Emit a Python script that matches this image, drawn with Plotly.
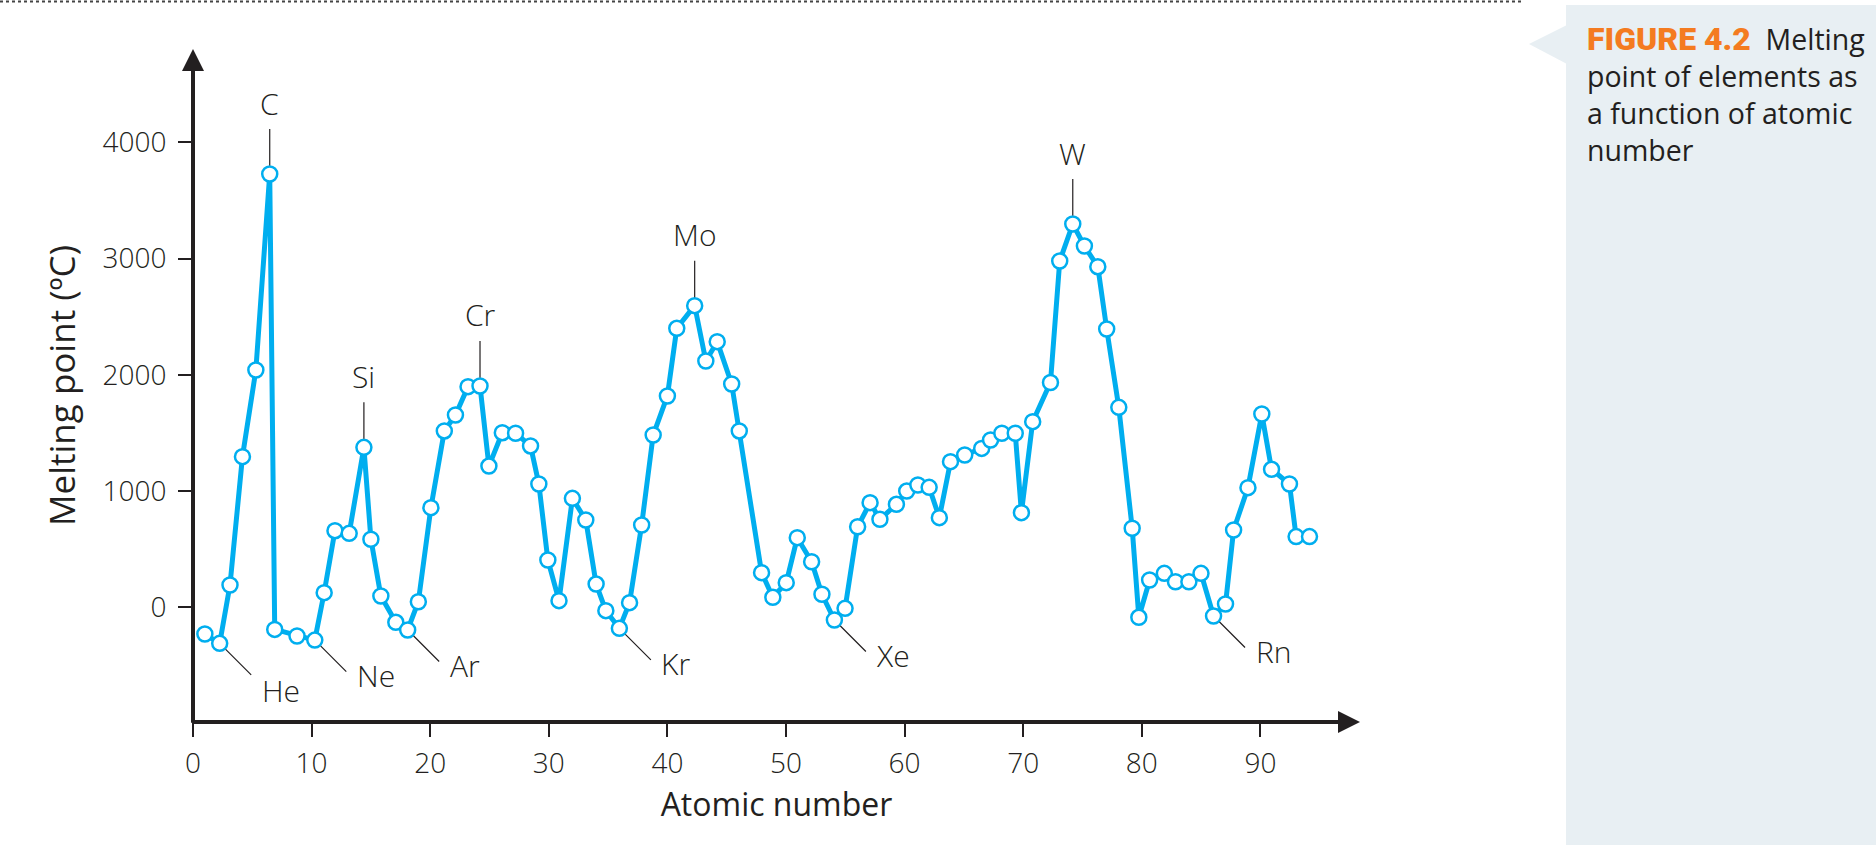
import plotly.graph_objects as go

# Melting point (deg C), one point per plotted element
symbols = [
    "H", "He", "Li", "Be", "B", "C", "N", "O", "Ne", "Na", "Mg", "Al", "Si", "P", "S",
    "Cl", "Ar", "K", "Ca", "Sc", "Ti", "V", "Cr", "Mn", "Fe", "Co", "Ni", "Cu", "Zn",
    "Ga", "Ge", "As", "Se", "Br", "Kr", "Rb", "Sr", "Y", "Zr", "Nb", "Mo", "Tc", "Ru",
    "Rh", "Pd", "Cd", "In", "Sn", "Sb", "Te", "I", "Xe", "Cs", "Ba", "La", "Ce", "Pr",
    "Nd", "Pm", "Sm", "Eu", "Gd", "Tb", "Dy", "Ho", "Er", "Tm", "Yb", "Lu", "Hf", "Ta",
    "W", "Re", "Os", "Ir", "Pt", "Au", "Hg", "Tl", "Pb", "Bi", "Po", "At", "Rn", "Fr",
    "Ra", "Ac", "Th", "Pa", "U", "Np", "Pu",
]
atomic_number = [
    1.0, 2.25, 3.12, 4.17, 5.3, 6.47, 6.89, 8.77, 10.27, 11.06, 11.97, 13.17, 14.41, 15.0, 15.84,
    17.1, 18.1, 19.0, 20.06, 21.19, 22.13, 23.19, 24.2, 24.95, 26.08, 27.2, 28.46, 29.16, 29.92,
    30.86, 31.99, 33.12, 33.99, 34.81, 35.95, 36.81, 37.83, 38.8, 40.0, 40.79, 42.3, 43.24, 44.2,
    45.42, 46.06, 47.94, 48.89, 50.02, 50.95, 52.16, 53.03, 54.08, 54.98, 56.04, 57.09, 57.92, 59.31,
    60.18, 61.12, 62.07, 62.93, 63.87, 65.07, 66.5, 67.25, 68.2, 69.33, 69.85, 70.8, 72.3, 73.08,
    74.18, 75.16, 76.29, 77.04, 78.06, 79.19, 79.75, 80.66, 81.9, 82.84, 83.97, 84.99, 86.05, 87.06,
    87.74, 88.95, 90.12, 90.94, 92.45, 93.01, 94.14,
]
melting_point = [
    -230, -310, 192, 1296, 2041, 3727, -190, -247, -282, 126, 659, 636, 1376, 585, 97,
    -129, -195, 48, 857, 1517, 1654, 1898, 1904, 1215, 1502, 1497, 1388, 1061, 407,
    57, 937, 751, 200, -29, -181, 40, 708, 1482, 1818, 2400, 2595, 2119, 2285,
    1921, 1517, 298, 86, 212, 599, 392, 112, -109, -9, 693, 900, 757, 886,
    1000, 1052, 1032, 771, 1253, 1310, 1367, 1439, 1497, 1497, 814, 1597, 1934, 2979,
    3297, 3108, 2930, 2394, 1720, 680, -86, 235, 292, 220, 220, 292, -75, 28,
    665, 1029, 1663, 1187, 1061, 608, 608,
]

x_ticks = [0, 10, 20, 30, 40, 50, 60, 70, 80, 90]
y_ticks = [0, 1000, 2000, 3000, 4000]

peak_labels = ["C", "Si", "Cr", "Mo", "W"]
noble_labels = ["He", "Ne", "Ar", "Kr", "Xe", "Rn"]

caption_tag = "FIGURE 4.2"
caption_lines = ["Melting", "point of elements as", "a function of atomic", "number"]

BLUE = "#00aeef"
INK = "#231f20"
FONT = "Open Sans"

# plot area in page pixels (body margin is removed below)
W, H = 1876, 845
L, T, R, B = 193, 49, 1360, 722
PW, PH = R - L, B - T
PX_PER_X, PX_PER_Y = 11.86, 0.11625
ZERO_Y = 607.3
X_RANGE = [0, PW / PX_PER_X]
Y_RANGE = [-(B - ZERO_Y) / PX_PER_Y, (ZERO_Y - T) / PX_PER_Y]


def px(x):
    return (x - L) / PW


def py(y):
    return 1 - (y - T) / PH


fig = go.Figure()

fig.add_trace(
    go.Scatter(
        x=atomic_number,
        y=melting_point,
        mode="lines+markers",
        line={"color": BLUE, "width": 5},
        marker={"size": 15, "color": "white", "line": {"color": BLUE, "width": 2.5}},
        cliponaxis=False,
        hoverinfo="skip",
    )
)

annotations = []

# axis lines with arrow heads
annotations.append(dict(
    x=0, y=Y_RANGE[1], ax=0, ay=Y_RANGE[0] - 20, xref="x", yref="y", axref="x", ayref="y",
    showarrow=True, arrowhead=2, arrowsize=1.1, arrowwidth=4, arrowcolor=INK, text="",
))
annotations.append(dict(
    x=X_RANGE[1], y=Y_RANGE[0], ax=-0.2, ay=Y_RANGE[0], xref="x", yref="y", axref="x", ayref="y",
    showarrow=True, arrowhead=2, arrowsize=1.1, arrowwidth=4, arrowcolor=INK, text="",
))

label_font = {"family": FONT, "size": 30, "color": INK, "weight": 300}

for sym in peak_labels:
    i = symbols.index(sym)
    annotations.append(dict(
        x=atomic_number[i], y=melting_point[i], ax=0, ay=-46.5,
        showarrow=True, arrowhead=0, arrowwidth=1.2, arrowcolor=INK, standoff=8.5, text="",
    ))
    annotations.append(dict(
        x=atomic_number[i], y=melting_point[i], yshift=71, showarrow=False,
        text=sym, font=label_font, xanchor="center", yanchor="middle",
    ))

for sym in noble_labels:
    i = symbols.index(sym)
    annotations.append(dict(
        x=atomic_number[i], y=melting_point[i], ax=33, ay=33,
        showarrow=True, arrowhead=0, arrowwidth=1.2, arrowcolor=INK, standoff=8.5, text="",
    ))
    annotations.append(dict(
        x=atomic_number[i], y=melting_point[i], xshift=40,
        yshift=-46.7 if sym == "He" else -35.5, showarrow=False,
        text=sym, font=label_font, xanchor="left", yanchor="middle",
    ))

# caption in the side panel, one text block
caption_text = (
    "<span style='font-family:Roboto;font-weight:900;font-size:32px;color:#f47b20'>"
    + caption_tag + "</span>&nbsp;&nbsp;" + "<br>".join(caption_lines)
)
annotations.append(dict(
    xref="paper", yref="paper", x=px(1585), y=py(95), xanchor="left", yanchor="middle",
    align="left", showarrow=False, text=caption_text,
    font={"family": FONT, "size": 28.5, "color": INK},
))

shapes = [
    dict(type="rect", xref="paper", yref="paper", x0=px(1566), x1=px(1890),
         y0=py(5), y1=py(860), fillcolor="#e8eff3", line={"width": 0}, layer="below"),
    dict(type="path", xref="paper", yref="paper",
         path=f"M{px(1529)},{py(44)} L{px(1567)},{py(25)} L{px(1567)},{py(64)} Z",
         fillcolor="#e8eff3", line={"width": 0}, layer="below"),
    dict(type="line", xref="paper", yref="paper", x0=px(0), x1=px(1523),
         y0=py(1.5), y1=py(1.5), line={"color": "#444444", "width": 2, "dash": "dot"}),
]

tick_font = {"family": FONT, "size": 28, "color": INK, "weight": 300}

fig.update_layout(
    width=W,
    height=H,
    margin={"l": L, "r": W - R, "t": T, "b": H - B, "pad": 0},
    paper_bgcolor="white",
    plot_bgcolor="white",
    showlegend=False,
    annotations=annotations,
    shapes=shapes,
    xaxis=dict(
        range=X_RANGE, tickvals=x_ticks, ticks="outside", ticklen=14, tickwidth=1.5,
        tickcolor=INK, tickfont=tick_font, showgrid=False, zeroline=False, showline=False,
        ticklabelstandoff=2,
        title={"text": "Atomic number", "font": {"family": FONT, "size": 32, "color": INK},
               "standoff": 14},
    ),
    yaxis=dict(
        range=Y_RANGE, tickvals=y_ticks, ticks="outside", ticklen=14, tickwidth=1.5,
        tickcolor=INK, tickfont=tick_font, showgrid=False, zeroline=False, showline=False,
        ticklabelstandoff=6,
        title={"text": "Melting point (ºC)", "font": {"family": FONT, "size": 35, "color": INK},
               "standoff": 16},
    ),
)

fig.write_html(
    "out.html",
    config={"displayModeBar": False},
    post_script="document.body.style.margin = '0';",
)
